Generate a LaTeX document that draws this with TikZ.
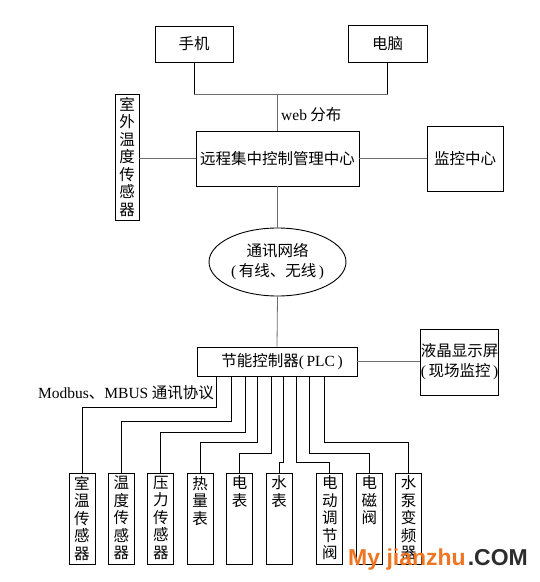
\documentclass[tikz,border=0pt]{standalone}
\usepackage{fontspec}
\setmainfont{Noto Sans CJK SC}
\newfontfamily\latin{Liberation Serif}
\newfontfamily\wmfont{Liberation Sans}
\usepackage{tikz}
\usetikzlibrary{positioning, shapes.geometric}
\definecolor{wmorange}{RGB}{238,118,35}
\definecolor{wmgray}{RGB}{45,45,45}
\newcommand{\en}[1]{{\latin #1}}
\newcommand{\colstack}[2]{\parbox[c][#1][t]{16pt}{\centering\vspace*{3pt}#2}}

\begin{document}
\begin{tikzpicture}[x=1pt, y=-1pt,
  font=\fontsize{15.5}{17.5}\selectfont,
  node distance=12.5pt,
  box/.style={rectangle, draw=black, line width=0.9pt, inner sep=0pt, align=center},
  dev/.style={box, minimum width=26pt, minimum height=91pt},
  link/.style={draw=gray!85!black, line width=0.8pt},
  bus/.style={draw=black, line width=0.9pt},
  wmark/.style={inner sep=0pt, font=\wmfont\bfseries\fontsize{23}{23}\selectfont}
]
\useasboundingbox (0,0) rectangle (540,582);
\node[box, minimum width=78pt, minimum height=36pt] (phone) at (194,44) {手机};
\node[box, minimum width=79pt, minimum height=37pt] (pc) at (387.5,43.5) {电脑};
\node[box, minimum width=163pt, minimum height=55pt] (ctr) at (277.5,158.5) {远程集中控制管理中心};
\node[box, minimum width=24pt, minimum height=126pt] (osens) at (127,157) {\colstack{126pt}{室\\外\\温\\度\\传\\感\\器}};
\node[box, minimum width=76pt, minimum height=65pt] (mon) at (465,158.5) {监控中心};
\node[anchor=west, inner sep=0pt] (web) at (281,115) {\en{web} 分布};
\node[ellipse, draw=black, line width=0.9pt, minimum width=137pt, minimum height=68pt, inner sep=0pt, align=center] (net) at (277.5,262) {通讯网络\\[2.5pt]\en{(}\,有线、无线\,\en{)}};
\node[box, minimum width=160pt, minimum height=29pt] (plc) at (277,361.5) {\hspace{10pt}节能控制器\en{(\,PLC\,)}};
\node[box, minimum width=77pt, minimum height=66pt] (lcd) at (459.5,362) {液晶显示屏\\[2.5pt]\en{(}\,现场监控\,\en{)}};
\node[anchor=east, inner sep=0pt] (proto) at (214,393) {\en{Modbus}、\en{MBUS} 通讯协议};

\node[dev] (d1) at (82,518.5) {\colstack{91pt}{室\\温\\传\\感\\器}};
\node[dev, right=of d1] (d2) {\colstack{91pt}{温\\度\\传\\感\\器}};
\node[dev, right=of d2] (d3) {\colstack{91pt}{压\\力\\传\\感\\器}};
\node[dev, right=of d3] (d4) {\colstack{91pt}{热\\量\\表}};
\node[dev, right=of d4] (d5) {\colstack{91pt}{电\\表}};
\node[dev, right=of d5] (d6) {\colstack{91pt}{水\\表}};
\node[dev, right=24pt of d6] (d7) {\colstack{91pt}{电\\动\\调\\节\\阀}};
\node[dev, right=of d7] (d8) {\colstack{91pt}{电\\磁\\阀}};
\node[dev, right=of d8] (d9) {\colstack{91pt}{水\\泵\\变\\频\\器}};

\coordinate (hub) at (277.5,94);
\draw[bus] (phone.south) -- (phone.south |- hub);
\draw[bus] (pc.south) -- (pc.south |- hub);
\draw[link] (phone.south |- hub) -- (pc.south |- hub);
\draw[link] (hub) -- (ctr.north);
\draw[link] (osens.east |- ctr.west) -- (ctr.west);
\draw[link] (ctr.east) -- (mon.west);
\draw[link] (ctr.south) -- (net.north);
\draw[link] (net.south) -- (plc.north);
\draw[link] (plc.east) -- (lcd.west |- plc.east);
\foreach \d/\bx/\by in {d1/216/407, d2/231/421, d3/245/432, d4/257/442, d5/271/453, d6/283/462, d7/296/462, d8/309/453, d9/324/442}
  \draw[bus] (\d.north) |- (\bx,\by) -- (plc.south -| \bx,0);

\node[wmark, anchor=base west, text=wmorange] (wm1) at (348,565) {My jianzhu};
\node[wmark, anchor=base east, text=wmgray] (wm2) at (528,565) {.COM};
\end{tikzpicture}
\end{document}
